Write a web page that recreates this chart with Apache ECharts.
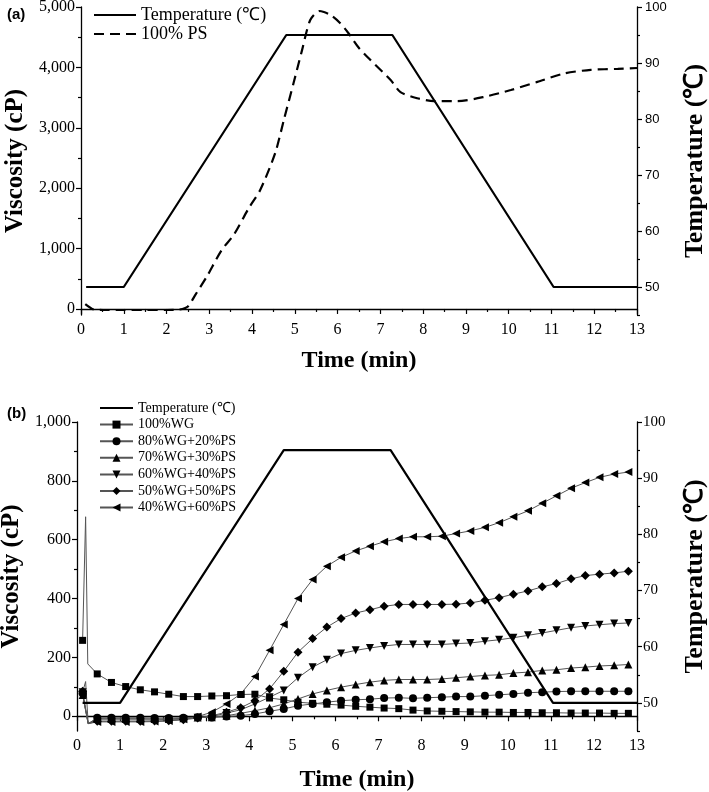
<!DOCTYPE html>
<html><head><meta charset="utf-8">
<script src="https://cdn.jsdelivr.net/npm/echarts@6/dist/echarts.min.js"></script>
<style>html,body{margin:0;padding:0;background:#fff}#c{width:709px;height:792px}</style>
</head><body><div id="c"></div>
<script>
// ---------- data ----------
const tempT = [0.12, 1.0, 4.8, 7.28, 11.05, 13.0];
const tempV = [50, 50, 95, 95, 50, 50];

const psT = [0.1, 0.3, 0.5, 1.0, 1.5, 2.0, 2.3, 2.5, 2.67, 2.94, 3.29, 3.57, 3.92, 4.19, 4.54, 4.75, 4.97, 5.17, 5.36, 5.58, 5.83, 6.05, 6.25, 6.49, 6.77, 7.24, 7.47, 7.86, 8.25, 8.8, 9.42, 10.05, 10.67, 11.3, 11.92, 12.55, 13.0];
const psV = [80, -10, -17, -17, -17, -17, -10, 40, 230, 535, 977, 1225, 1667, 1970, 2580, 3150, 3740, 4290, 4785, 4934, 4870, 4740, 4570, 4330, 4120, 3790, 3590, 3490, 3440, 3440, 3510, 3625, 3760, 3900, 3960, 3975, 3990];

const markT = [0.13,0.47,0.8,1.13,1.47,1.8,2.13,2.47,2.8,3.13,3.47,3.8,4.13,4.47,4.8,5.13,5.47,5.8,6.13,6.47,6.8,7.13,7.47,7.8,8.13,8.47,8.8,9.13,9.47,9.8,10.13,10.47,10.8,11.13,11.47,11.8,12.13,12.47,12.8];
const wg100 = [258,144,115,101,90,83,75,67,67,69,70,74,75,62,56,48,44,41,38,34,31,28,26,21,18,17,16,15,14,14,13,13,12,12,11,11,11,10,10];
const wg80  = [78,-5,-5,-5,-5,-6,-6,-5,-3,-4,-1,2,8,17,25,36,42,48,53,56,58,62,63,61,63,65,67,67,70,73,76,80,82,84,85,85,85,85,85];
const wg70  = [72,-8,-8,-8,-8,-9,-9,-7,-4,-3,2,10,19,29,42,59,76,88,99,108,116,122,125,125,125,127,131,135,139,141,147,150,156,158,164,167,171,173,176];
const wg60  = [82,-12,-12,-12,-12,-12,-11,-9,-5,-1,11,22,42,65,88,131,167,192,213,224,232,239,244,244,244,244,247,249,255,260,267,275,283,292,301,307,311,315,317];
const wg50  = [85,-17,-17,-17,-17,-16,-15,-12,-6,2,14,29,53,93,153,218,264,303,332,351,362,374,380,380,380,380,381,385,394,403,415,426,440,451,467,478,483,487,493];
const wg40  = [75,-19,-19,-19,-19,-18,-16,-10,-1,14,42,76,135,224,312,400,465,510,540,562,578,593,604,610,610,612,621,630,642,658,678,698,724,749,775,794,812,823,830];
// extra unmarked raw points near the start (spike)
const wg100SpikeT = [0.2, 0.25], wg100SpikeV = [678, 178];
const wg60SpikeT  = [0.2, 0.26], wg60SpikeV  = [118, -25];
const dropT = [0.26], dropV = [-25];

const viscTopLabels = [0,1000,2000,3000,4000,5000];
const viscTopMinor = [500,1500,2500,3500,4500];
const viscBotLabels = [0,200,400,600,800,1000];
const viscBotMinor = [100,300,500,700,900];
const tempLabels = [50,60,70,80,90,100];
const tempMinor = [45,55,65,75,85,95];

// ---------- helpers ----------
const pairs = (t, v) => t.map((x, i) => [x, v[i]]);
function markData(vals, sT, sV) {
  const pts = markT.map((t, i) => ({ value: [t, vals[i]] }));
  sT.forEach((t, i) => pts.push({ value: [t, sV[i]], symbol: 'none' }));
  pts.sort((a, b) => a.value[0] - b.value[0]);
  return pts;
}
const serif = 'Liberation Serif, Times New Roman, serif';
const sans = 'Liberation Sans, Arial, sans-serif';
const fmt = v => v.toLocaleString('en-US');

function xAx(gi, gap) {
  return {
    type: 'value', gridIndex: gi, min: 0, max: 13, interval: 1,
    name: 'Time (min)', nameLocation: 'middle', nameGap: gap,
    nameTextStyle: { fontFamily: serif, fontWeight: 'bold', fontSize: 24, color: '#000' },
    axisLine: { show: true, lineStyle: { color: '#000', width: 1.3 } },
    axisTick: { show: true, length: 5, lineStyle: { color: '#000', width: 1.2 } },
    minorTick: { show: true, splitNumber: 2, length: 3, lineStyle: { color: '#000', width: 1.2 } },
    axisLabel: { fontFamily: serif, fontSize: 16, color: '#000', margin: 7 },
    splitLine: { show: false }
  };
}
function yAx(gi, pos, min, max, labels, ticks, opts) {
  return Object.assign({
    type: 'value', gridIndex: gi, position: pos, min: min, max: max,
    axisLine: { show: true, onZero: false, lineStyle: { color: '#000', width: 1.3 } },
    axisTick: { show: true, length: 5, customValues: ticks, lineStyle: { color: '#000', width: 1.2 } },
    axisLabel: { customValues: labels, color: '#000', margin: 6 },
    splitLine: { show: false }
  }, opts);
}
function minorAx(gi, pos, min, max, ticks) {
  return {
    type: 'value', gridIndex: gi, position: pos, min: min, max: max,
    axisLine: { show: false },
    axisTick: { show: true, length: 3, customValues: ticks, lineStyle: { color: '#000', width: 1.2 } },
    axisLabel: { show: false }, splitLine: { show: false }
  };
}
const nameStyleL = { fontFamily: serif, fontWeight: 'bold', fontSize: 25, color: '#000' };
const nameStyleR = { fontFamily: serif, fontWeight: 'bold', fontSize: 26, color: '#000' };

const markStyle = (name, sym, rot, vals, sT, sV) => ({
  name: name, type: 'line', xAxisIndex: 1, yAxisIndex: 4,
  data: markData(vals, sT, sV),
  symbol: sym, symbolRotate: rot, symbolSize: sym === 'rect' ? 7 : (sym === 'diamond' ? 9 : 8),
  showAllSymbol: true,
  itemStyle: { color: '#000' },
  lineStyle: { color: '#555', width: 1 },
  z: 3
});
const noSym = name => ({ name: name, itemStyle: { opacity: 0 } });

const option = {
  animation: false,
  backgroundColor: '#fff',
  grid: [
    { left: 81, right: 72, top: 7, height: 308, containLabel: false, outerBoundsMode: 'none' },
    { left: 77, right: 72, top: 422, height: 309, containLabel: false, outerBoundsMode: 'none' }
  ],
  xAxis: [xAx(0, 34), xAx(1, 37)],
  yAxis: [
    yAx(0, 'left', -100, 5000, viscTopLabels, viscTopLabels, {
      name: 'Viscosity (cP)', nameLocation: 'middle', nameGap: 53, nameRotate: 90, nameTextStyle: nameStyleL,
      axisLabel: { customValues: viscTopLabels, formatter: fmt, fontFamily: serif, fontSize: 16, color: '#000', margin: 6 }
    }),
    yAx(0, 'right', 45, 100, tempLabels, tempLabels, {
      name: 'Temperature (℃)', nameLocation: 'middle', nameGap: 45, nameRotate: 90, nameTextStyle: nameStyleR,
      axisLabel: { customValues: tempLabels, fontFamily: sans, fontSize: 13, color: '#000', margin: 8 }
    }),
    minorAx(0, 'left', -100, 5000, viscTopMinor),
    minorAx(0, 'right', 45, 100, tempMinor),
    yAx(1, 'left', -50, 1000, viscBotLabels, viscBotLabels, {
      name: 'Viscosity (cP)', nameLocation: 'middle', nameGap: 52, nameRotate: 90, nameTextStyle: nameStyleL,
      axisLabel: { customValues: viscBotLabels, formatter: fmt, fontFamily: serif, fontSize: 16, color: '#000', margin: 6 }
    }),
    yAx(1, 'right', 45, 100, tempLabels, tempLabels, {
      name: 'Temperature (℃)', nameLocation: 'middle', nameGap: 45, nameRotate: 90, nameTextStyle: nameStyleR,
      axisLabel: { customValues: tempLabels, fontFamily: serif, fontSize: 15, color: '#000', margin: 6 }
    }),
    minorAx(1, 'left', -50, 1000, viscBotMinor),
    minorAx(1, 'right', 45, 100, tempMinor)
  ],
  legend: [
    {
      orient: 'vertical', left: 93, top: 6, padding: 0, itemWidth: 42, itemHeight: 14, itemGap: 1,
      data: [noSym('Temperature (℃)'), noSym('100% PS')],
      textStyle: { fontFamily: serif, fontSize: 18, color: '#000' }
    },
    {
      orient: 'vertical', left: 99, top: 401, padding: 0, itemWidth: 33, itemHeight: 10, itemGap: 2.6,
      data: [noSym('Temperature (℃) '), '100%WG', '80%WG+20%PS', '70%WG+30%PS', '60%WG+40%PS', '50%WG+50%PS', '40%WG+60%PS'],
      textStyle: { fontFamily: serif, fontSize: 14, color: '#000' }
    }
  ],
  graphic: [
    { type: 'text', left: 7, top: 7, style: { text: '(a)', font: 'bold 15px Liberation Sans, Arial, sans-serif', fill: '#000' } },
    { type: 'text', left: 7, top: 406, style: { text: '(b)', font: 'bold 15px Liberation Sans, Arial, sans-serif', fill: '#000' } }
  ],
  series: [
    {
      name: 'Temperature (℃)', type: 'line', xAxisIndex: 0, yAxisIndex: 1, data: pairs(tempT, tempV),
      symbol: 'none', lineStyle: { color: '#000', width: 2.2 }, itemStyle: { color: '#000' }, z: 4
    },
    {
      name: '100% PS', type: 'line', xAxisIndex: 0, yAxisIndex: 0, data: pairs(psT, psV),
      symbol: 'none', smooth: 0.25, lineStyle: { color: '#000', width: 2.2, type: [10, 6] }, itemStyle: { color: '#000' }
    },
    {
      name: 'Temperature (℃) ', type: 'line', xAxisIndex: 1, yAxisIndex: 5, data: pairs(tempT.map((t, i) => i === 0 ? 0.13 : t), tempV),
      symbol: 'none', lineStyle: { color: '#000', width: 2.2 }, itemStyle: { color: '#000' }, z: 4
    },
    markStyle('100%WG', 'rect', 0, wg100, wg100SpikeT, wg100SpikeV),
    markStyle('80%WG+20%PS', 'circle', 0, wg80, dropT, dropV),
    markStyle('70%WG+30%PS', 'triangle', 0, wg70, dropT, dropV),
    markStyle('60%WG+40%PS', 'triangle', 180, wg60, wg60SpikeT, wg60SpikeV),
    markStyle('50%WG+50%PS', 'diamond', 0, wg50, dropT, dropV),
    markStyle('40%WG+60%PS', 'triangle', 90, wg40, dropT, dropV)
  ]
};
const chart = echarts.init(document.getElementById('c'), null, { renderer: 'canvas' });
chart.setOption(option);
</script>
</body></html>
